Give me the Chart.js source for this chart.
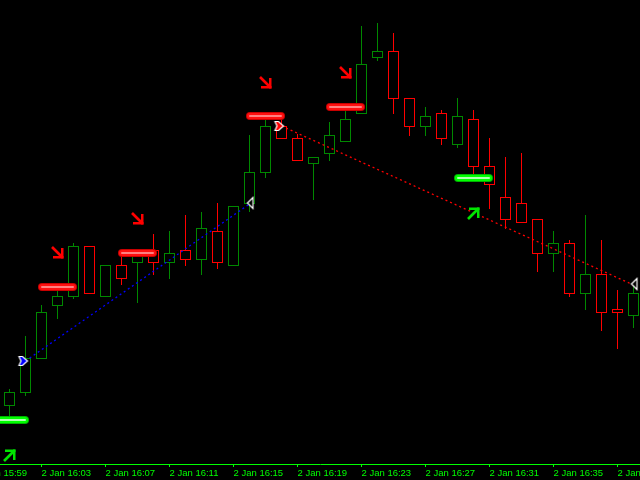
<!DOCTYPE html>
<html><head><meta charset="utf-8">
<script src="https://cdn.jsdelivr.net/npm/chart.js@4"></script>
<style>html,body{margin:0;padding:0;background:#000;overflow:hidden}</style>
</head><body>
<canvas id="c" width="640" height="480"></canvas>
<script>
// ---- data (price in points) ----
const opens  = [58,71,105,158,167,218,167,199,201,214,201,214,204,233,198,260,291,338,326,300,310,322,350,406,413,366,337,351,319,345,298,267,261,245,210,221,170,190,155,148];
const highs  = [75,128,159,176,221,218,199,212,212,230,233,249,252,261,258,329,350,344,330,307,342,354,438,441,431,366,357,354,366,354,326,307,311,245,233,224,249,224,174,181];
const lows   = [46,68,105,145,165,170,167,179,161,189,185,198,189,195,198,252,286,325,303,264,303,322,350,403,350,328,328,319,316,288,255,235,241,192,192,167,154,133,115,136];
const closes = [72,106,152,168,218,170,199,185,208,201,211,204,236,201,258,292,338,325,303,307,329,345,400,413,365,337,348,325,348,297,279,244,241,210,221,170,190,151,151,171];
const tickIdx    = [-2,2,6,10,14,18,22,26,30,34,38];
const tickLabels = ['2 Jan 15:59','2 Jan 16:03','2 Jan 16:07','2 Jan 16:11','2 Jan 16:15','2 Jan 16:19','2 Jan 16:23','2 Jan 16:27','2 Jan 16:31','2 Jan 16:35','2 Jan 16:39'];
const blueTrend  = [[1,103],[15,260]];
const redTrend   = [[17,338],[39,179]];
const redLevels   = [[3,177],[8,211],[16,348],[21,357]];
const greenLevels = [[0,44],[29,286]];
const downArrows = [[3,211.5],[8,245.5],[16,381.5],[21,391.5]];
const upArrows   = [[0,8.5],[29,250.5]];

const BULL = '#008800', BEAR = '#FF0000', AXIS = '#00FF00';
const idx = opens.map((_, i) => i);
const isBull = i => closes[i] >= opens[i];

function cv(w, h, fn) { const c = document.createElement('canvas'); c.width = w; c.height = h; fn(c.getContext('2d')); return c; }
const arrowDown = cv(13, 13, g => {
  g.fillStyle = BEAR; g.strokeStyle = BEAR; g.lineWidth = 2.6;
  g.beginPath(); g.moveTo(1, 1); g.lineTo(10, 10); g.stroke();
  g.fillRect(10, 2, 2.5, 10.5); g.fillRect(2, 10, 10.5, 2.5);
});
const arrowUp = cv(13, 13, g => {
  g.fillStyle = '#00E600'; g.strokeStyle = '#00E600'; g.lineWidth = 2.6;
  g.beginPath(); g.moveTo(1, 12); g.lineTo(10, 3); g.stroke();
  g.fillRect(10, 0.5, 2.5, 10.5); g.fillRect(2, 0.5, 10.5, 2.5);
});
function startMarker(col) {
  return cv(20, 12, g => {
    g.beginPath(); g.moveTo(3.5, 1.5); g.lineTo(7, 1.5); g.lineTo(12, 6); g.lineTo(7, 10.5); g.lineTo(3.5, 10.5); g.lineTo(5.5, 6); g.closePath();
    g.fillStyle = col; g.fill(); g.strokeStyle = '#fff'; g.lineWidth = 1.2; g.stroke();
  });
}
const endMarker = cv(20, 20, g => {
  g.beginPath(); g.moveTo(8, 9); g.lineTo(13.5, 3.5); g.lineTo(13.5, 14.5); g.closePath();
  g.fillStyle = '#000'; g.fill(); g.strokeStyle = '#fff'; g.lineWidth = 1.2; g.stroke();
});

const datasets = [];
// wicks
datasets.push({ type: 'bar', order: 20, data: idx.map(i => ({ x: i, y: [lows[i], highs[i]] })),
  backgroundColor: idx.map(i => isBull(i) ? BULL : BEAR), borderWidth: 0,
  barThickness: 1, maxBarThickness: 1, grouped: false, inflateAmount: 0 });
// bodies
datasets.push({ type: 'bar', order: 10, data: idx.map(i => ({ x: i, y: [opens[i], closes[i]] })),
  backgroundColor: '#000', borderColor: idx.map(i => isBull(i) ? BULL : BEAR), borderWidth: 1, borderSkipped: false,
  barThickness: 11, maxBarThickness: 11, grouped: false, inflateAmount: 0 });
// trend lines
function trend(pts, col) {
  datasets.push({ type: 'line', order: 5, data: pts.map(p => ({ x: p[0], y: p[1] })), borderColor: col, borderWidth: 1.3,
    borderDash: [2, 3], pointRadius: 0, tension: 0, fill: false });
}
trend(blueTrend, '#0000FF'); trend(redTrend, '#FF0000');
// level bars
function level(lv, cols) {
  lv.forEach(p => {
    [[8, cols[0]], [6, cols[1]], [2, cols[2]]].forEach(([w, c], k) => {
      datasets.push({ type: 'line', order: 4 - k * 0.1, data: [{ x: p[0] - 0.97, y: p[1] }, { x: p[0] + 0.97, y: p[1] }],
        borderColor: c, borderWidth: w, borderCapStyle: 'round', pointRadius: 0, fill: false });
    });
  });
}
level(redLevels, ['#C80000', '#FF1010', '#FF8080']);
level(greenLevels, ['#00B000', '#00FF00', '#B0FFB0']);
// markers
function pts(list, style) {
  datasets.push({ type: 'scatter', order: 1, data: list.map(p => ({ x: p[0], y: p[1] })), pointStyle: style, pointRadius: 6, showLine: false });
}
pts([blueTrend[0]], startMarker('#0000FF'));
pts([redTrend[0]], startMarker('#FF0000'));
pts([blueTrend[1], redTrend[1]], endMarker);
pts(downArrows, arrowDown);
pts(upArrows, arrowUp);

new Chart(document.getElementById('c'), {
  type: 'bar',
  data: { datasets },
  options: {
    responsive: false, animation: false, devicePixelRatio: 1,
    layout: { padding: 0, autoPadding: false },
    events: [],
    plugins: { legend: { display: false }, tooltip: { enabled: false } },
    scales: {
      x: {
        type: 'linear', min: -0.59375, max: 39.40625, offset: false, bounds: 'data',
        afterBuildTicks: s => { s.ticks = tickIdx.map(v => ({ value: v })); },
        afterFit: s => { s.height = 16; s.paddingLeft = 0; s.paddingRight = 0; },
        grid: { display: true, drawOnChartArea: false, drawTicks: true, tickLength: 3, color: AXIS, offset: false },
        border: { display: true, color: AXIS, width: 1 },
        ticks: { autoSkip: false, maxRotation: 0, minRotation: 0, align: 'start', padding: 1, color: AXIS,
          font: { family: 'Liberation Sans', size: 9.5 },
          callback: v => tickLabels[tickIdx.indexOf(v)] }
      },
      y: { type: 'linear', display: false, min: 0, max: 464 }
    }
  }
});
</script>
</body></html>
